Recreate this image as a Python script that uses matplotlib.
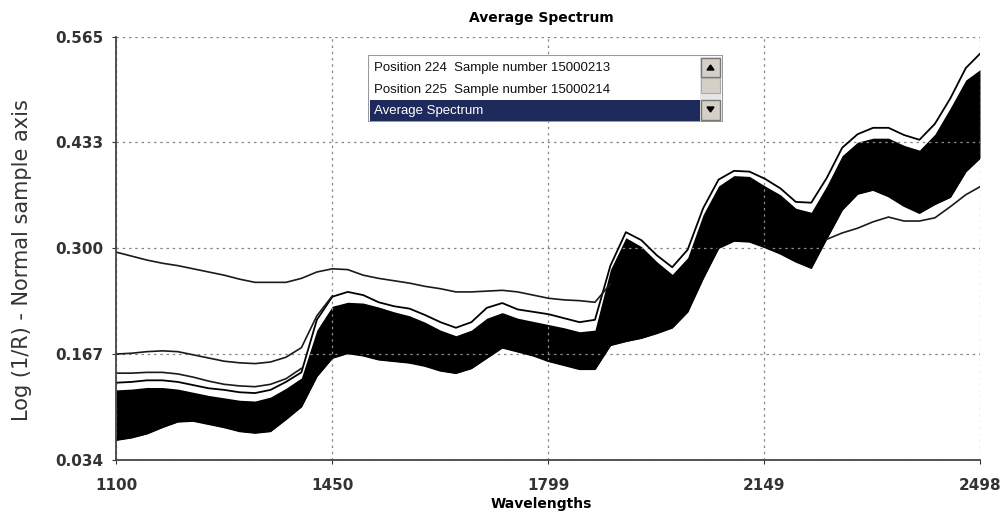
import numpy as np
import matplotlib.pyplot as plt
from matplotlib.patches import Rectangle, Polygon

# valores (comprimento de onda em nm, log(1/R))
wl = [1100, 1125, 1150, 1175, 1200, 1225, 1250, 1275, 1300, 1325, 1350, 1375,
      1400, 1425, 1450, 1475, 1500, 1525, 1550, 1575, 1600, 1625, 1650, 1675,
      1700, 1725, 1750, 1775, 1800, 1825, 1850, 1875, 1900, 1925, 1950, 1975,
      2000, 2025, 2050, 2075, 2100, 2125, 2150, 2175, 2200, 2225, 2250, 2275,
      2300, 2325, 2350, 2375, 2400, 2425, 2450, 2475, 2498]

# linha externa superior do grupo principal
borda_sup = [0.131, 0.132, 0.134, 0.134, 0.132, 0.128, 0.124, 0.122, 0.119, 0.118, 0.122, 0.132,
             0.144, 0.210, 0.239, 0.245, 0.241, 0.232, 0.227, 0.224, 0.216, 0.207, 0.200, 0.207,
             0.225, 0.231, 0.223, 0.220, 0.217, 0.212, 0.207, 0.210, 0.278, 0.320, 0.310, 0.291,
             0.276, 0.298, 0.350, 0.386, 0.397, 0.396, 0.387, 0.375, 0.358, 0.357, 0.388, 0.426,
             0.443, 0.451, 0.451, 0.442, 0.436, 0.456, 0.488, 0.526, 0.544]

# parte preenchida (topo e base)
banda_sup = [0.122, 0.123, 0.125, 0.125, 0.123, 0.119, 0.115, 0.112, 0.109, 0.108, 0.113, 0.124,
             0.137, 0.197, 0.227, 0.232, 0.231, 0.226, 0.220, 0.215, 0.207, 0.197, 0.190, 0.197,
             0.212, 0.219, 0.212, 0.208, 0.204, 0.200, 0.195, 0.197, 0.273, 0.313, 0.302, 0.283,
             0.267, 0.288, 0.342, 0.378, 0.391, 0.390, 0.378, 0.367, 0.350, 0.345, 0.378, 0.416,
             0.433, 0.438, 0.438, 0.429, 0.423, 0.443, 0.476, 0.511, 0.524]
banda_inf = [0.059, 0.062, 0.067, 0.075, 0.082, 0.083, 0.079, 0.075, 0.070, 0.068, 0.070, 0.085,
             0.101, 0.139, 0.162, 0.168, 0.165, 0.160, 0.158, 0.156, 0.152, 0.146, 0.143, 0.149,
             0.162, 0.175, 0.170, 0.165, 0.158, 0.153, 0.148, 0.148, 0.178, 0.183, 0.187, 0.193,
             0.200, 0.220, 0.262, 0.300, 0.309, 0.308, 0.301, 0.293, 0.283, 0.275, 0.312, 0.348,
             0.368, 0.373, 0.365, 0.353, 0.344, 0.355, 0.364, 0.396, 0.413]

nan = np.nan
# amostras fora do grupo
fora1 = [0.295, 0.290, 0.285, 0.281, 0.278, 0.274, 0.270, 0.266, 0.261, 0.257, 0.257, 0.257,
         0.262, 0.270, 0.274, 0.273, 0.266, 0.262, 0.259, 0.256, 0.252, 0.249, 0.245, 0.245,
         0.246, 0.247, 0.245, 0.241, 0.237, 0.235, 0.234, 0.232, 0.255, nan, nan, nan,
         nan, nan, nan, nan, nan, nan, nan, nan, nan, nan, nan, nan,
         nan, nan, nan, nan, nan, nan, nan, nan, nan]
fora2 = [0.167, 0.168, 0.170, 0.171, 0.170, 0.166, 0.162, 0.158, 0.156, 0.155, 0.157, 0.163,
         0.175, 0.215, 0.240, nan, nan, nan, nan, nan, nan, nan, nan, nan,
         nan, nan, nan, nan, nan, nan, nan, nan, nan, nan, nan, nan,
         nan, nan, nan, nan, nan, nan, nan, nan, nan, nan, nan, nan,
         nan, nan, nan, nan, nan, nan, nan, nan, nan]
fora3 = [0.143, 0.143, 0.144, 0.144, 0.142, 0.138, 0.133, 0.129, 0.127, 0.126, 0.129, 0.136,
         0.149, nan, nan, nan, nan, nan, nan, nan, nan, nan, nan, nan,
         nan, nan, nan, nan, nan, nan, nan, nan, nan, nan, nan, nan,
         nan, nan, nan, nan, nan, nan, nan, nan, nan, nan, nan, nan,
         nan, nan, nan, nan, nan, nan, nan, nan, nan]
fora4 = [nan, nan, nan, nan, nan, nan, nan, nan, nan, nan, nan, nan,
         nan, nan, nan, nan, nan, nan, nan, nan, nan, nan, nan, nan,
         nan, nan, nan, nan, nan, nan, nan, nan, nan, nan, nan, nan,
         nan, nan, nan, nan, nan, nan, nan, nan, nan, nan, 0.311, 0.319,
         0.325, 0.333, 0.339, 0.334, 0.334, 0.338, 0.352, 0.367, 0.377]

xticks = [1100, 1450, 1799, 2149, 2498]
yticks = [0.034, 0.167, 0.300, 0.433, 0.565]
itens_lista = ['Position 224  Sample number 15000213',
               'Position 225  Sample number 15000214',
               'Average Spectrum']

fig = plt.figure(figsize=(10, 5.12), dpi=100)
ax = fig.add_axes([0.116, 0.1016, 0.864, 0.8261])

ax.fill_between(wl, banda_inf, banda_sup, color='black', lw=0)
ax.plot(wl, borda_sup, color='black', lw=1.3)
ax.plot(wl, banda_inf, color='black', lw=1.3)
for serie in [fora1, fora2, fora3, fora4]:
    ax.plot(wl, serie, color='#1a1a1a', lw=1.2)

ax.set_xlim(1100, 2498)
ax.set_ylim(0.034, 0.565)
ax.set_xticks(xticks)
ax.set_yticks(yticks)
ax.set_xticklabels([str(t) for t in xticks], fontweight='bold', fontsize=11)
ax.set_yticklabels(['%.3f' % t for t in yticks], fontweight='bold', fontsize=11)
ax.tick_params(axis='x', length=3, pad=10, colors='#333333')
ax.tick_params(axis='y', length=3, pad=6, colors='#333333')
ax.grid(True, color='#888888', linestyle=(0, (2, 3)), lw=0.9)
for lado in ['top', 'right']:
    ax.spines[lado].set_visible(False)
for lado in ['left', 'bottom']:
    ax.spines[lado].set_color('#444444')
    ax.spines[lado].set_linewidth(1.3)

fig.text(0.541, 0.965, 'Average Spectrum', ha='center', va='center', fontsize=10, fontweight='bold')
fig.text(0.541, 0.015, 'Wavelengths', ha='center', va='center', fontsize=10, fontweight='bold')
fig.text(0.022, 0.492, 'Log (1/R) - Normal sample axis', rotation=90, ha='center', va='center',
         fontsize=15, color='#333333')

# caixa de lista por cima do grafico
lb = fig.add_axes([0.368, 1 - 122 / 512, 0.355, 67 / 512])
lb.set_xlim(0, 355)
lb.set_ylim(67, 0)
lb.axis('off')
lb.add_patch(Rectangle((0, 0), 355, 67, facecolor='white', edgecolor='#9a9a9a', lw=1.5))
lb.add_patch(Rectangle((2, 45), 330, 21, facecolor='#1f2a5c', edgecolor='none'))
for i, item in enumerate(itens_lista):
    lb.text(6, 13 + 21.5 * i, item, va='center', fontsize=9.5,
            color='white' if i == 2 else '#111111', family='Liberation Sans')
# barra de rolagem
lb.add_patch(Rectangle((332, 2), 21, 63, facecolor='#e6e6e6', edgecolor='none'))
lb.add_patch(Rectangle((333, 3), 19, 19, facecolor='#d4d0c8', edgecolor='#777777', lw=1))
lb.add_patch(Rectangle((333, 45), 19, 20, facecolor='#d4d0c8', edgecolor='#777777', lw=1))
lb.add_patch(Rectangle((333, 23), 19, 15, facecolor='#d4d0c8', edgecolor='#aaaaaa', lw=0.8))
lb.add_patch(Polygon([[339, 15], [346, 15], [342.5, 10]], closed=True, color='black'))
lb.add_patch(Polygon([[339, 52], [346, 52], [342.5, 57]], closed=True, color='black'))

plt.savefig('out.png', dpi=100)
